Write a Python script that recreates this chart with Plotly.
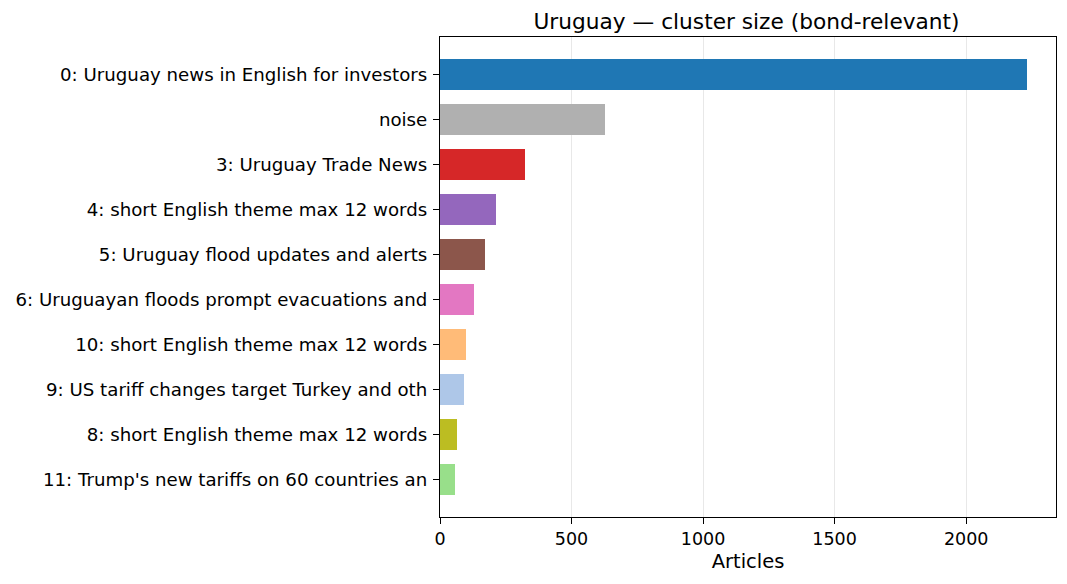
import plotly.graph_objects as go

# cluster labels, top to bottom
labels = [
    "0: Uruguay news in English for investors",
    "noise",
    "3: Uruguay Trade News",
    "4: short English theme max 12 words",
    "5: Uruguay flood updates and alerts",
    "6: Uruguayan floods prompt evacuations and",
    "10: short English theme max 12 words",
    "9: US tariff changes target Turkey and oth",
    "8: short English theme max 12 words",
    "11: Trump's new tariffs on 60 countries an",
]
articles = [2230, 628, 324, 214, 172, 130, 99, 91, 65, 57]
colors = ["#1f77b4", "#b0b0b0", "#d62728", "#9467bd", "#8c564b",
          "#e377c2", "#ffbb78", "#aec7e8", "#bcbd22", "#98df8a"]
xticks = [0, 500, 1000, 1500, 2000]

ypos = list(range(len(labels)))

fig = go.Figure()
fig.add_trace(go.Bar(
    x=articles, y=ypos, orientation="h", width=0.7,
    marker=dict(color=colors, line=dict(width=0)),
    showlegend=False,
))

# page has an 8px body margin, so the figure is sized/margined to land on the reference
fig.update_layout(
    width=1059, height=576,
    margin=dict(l=432, r=11, t=29, b=67),
    plot_bgcolor="white", paper_bgcolor="white",
    font=dict(family="DejaVu Sans", size=17.5, color="black"),
    title=dict(text="Uruguay — cluster size (bond-relevant)",
               xref="container", x=0.6974, xanchor="center",
               yref="container", y=0.977, yanchor="middle", font=dict(size=21.7)),
    bargap=0,
)
fig.update_xaxes(
    range=[0, max(articles) * 1.05], tickvals=xticks,
    showgrid=True, gridcolor="rgba(0,0,0,0.09)", gridwidth=1,
    showline=True, linecolor="black", linewidth=1.2, mirror=True,
    ticks="outside", ticklen=6, tickcolor="black", tickwidth=1.2,
    title=dict(text="Articles", font=dict(size=19.5), standoff=6),
    zeroline=False, automargin=False,
)
fig.update_yaxes(
    range=[9.835, -0.835], tickvals=ypos, ticktext=labels,
    showgrid=False, zeroline=False,
    showline=True, linecolor="black", linewidth=1.2, mirror=True,
    ticks="outside", ticklen=6, tickcolor="black", tickwidth=1.2,
    tickfont=dict(size=18.2), ticklabelstandoff=2, automargin=False,
)

fig.write_html("out.html")
